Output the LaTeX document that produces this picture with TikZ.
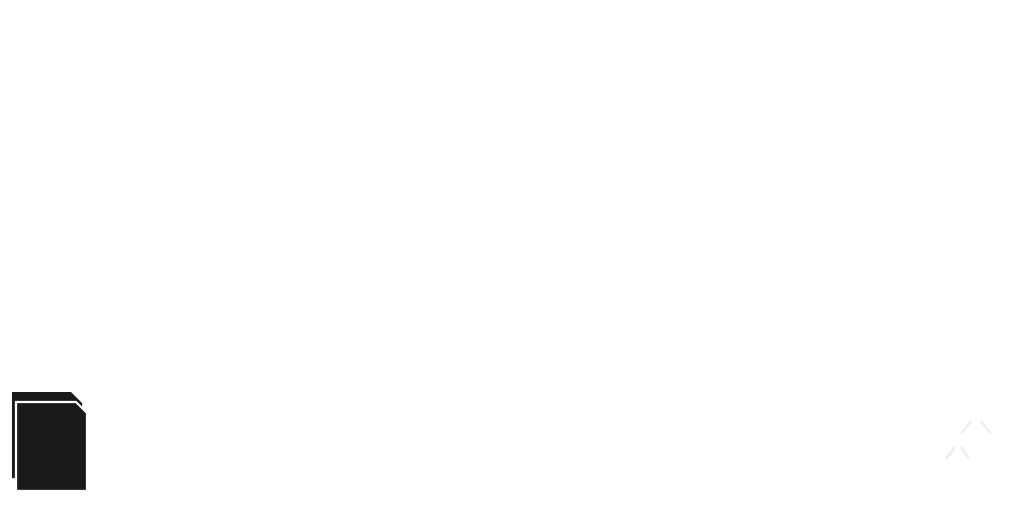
\documentclass[tikz,border=0pt]{standalone}
\definecolor{sheet}{HTML}{1A1A1A}
\definecolor{faint}{HTML}{EDEDED}
\begin{document}
\begin{tikzpicture}[x=0.02cm, y=-0.02cm]
\useasboundingbox (0,0) rectangle (1009,522);
% document icon
\fill [sheet] (12,392) -- (71,392) -- (82,403) -- (82,478) -- (12,478) -- cycle;
\filldraw [fill=sheet, draw=white, line width=1.2pt] (16,402) -- (76,402) -- (87,413) -- (87,491) -- (16,491) -- cycle;
% faint marks
\draw [faint, line width=1.3pt] (961,434) -- (971,421);
\draw [faint, line width=1.3pt] (981,421) -- (991,434);
\draw [faint, line width=1.3pt] (946,459) -- (955,447);
\draw [faint, line width=1.3pt] (961,447) -- (969,459);
\end{tikzpicture}
\end{document}
